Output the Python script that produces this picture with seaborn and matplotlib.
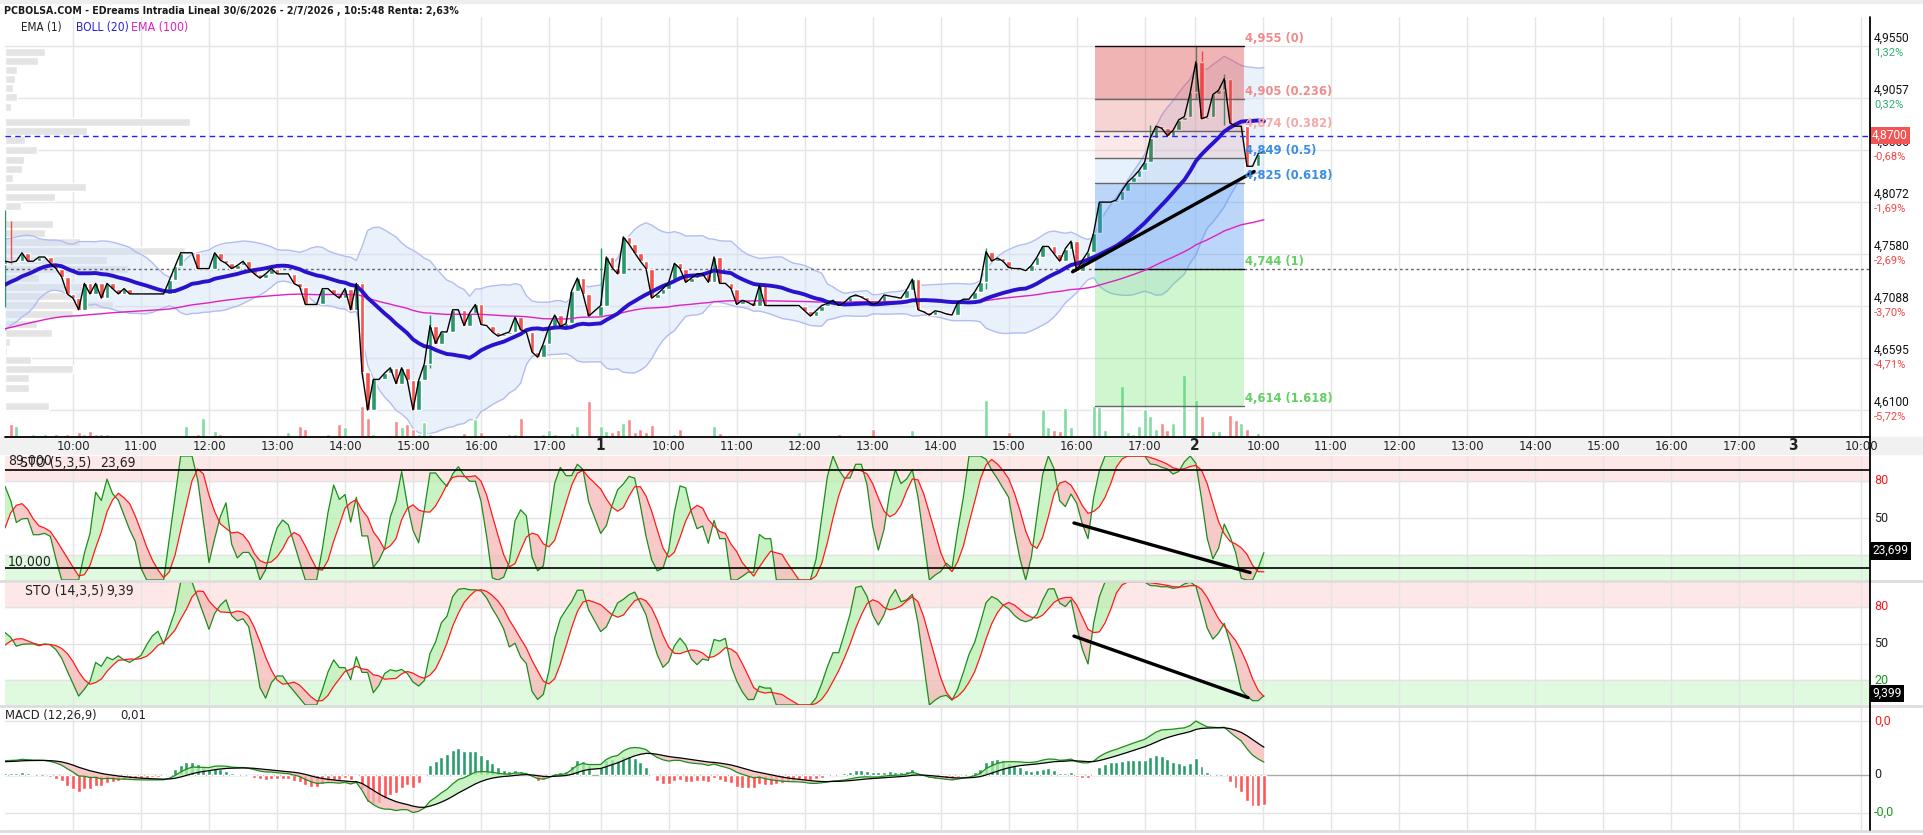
import numpy as np
import pandas as pd
import matplotlib
matplotlib.use("Agg")
import matplotlib.pyplot as plt
from matplotlib import font_manager as fm
import seaborn as sns
from matplotlib.patches import Rectangle
from matplotlib.lines import Line2D

W, H = 1924, 835

sns.set_theme(style="white")

# the chart uses a narrow face; take one if the box has it
narrow_fam, narrow_stretch = None, "normal"
for f in fm.fontManager.ttflist:
    if "Narrow" in f.name or "Condensed" in f.name:
        narrow_fam, narrow_stretch = f.name, f.stretch
        break
    if str(f.stretch) in ("condensed", "semi-condensed"):
        narrow_fam, narrow_stretch = f.name, f.stretch
        break
if narrow_fam:
    plt.rcParams['font.family'] = [narrow_fam, 'DejaVu Sans']
    plt.rcParams['font.stretch'] = narrow_stretch
else:
    plt.rcParams['font.family'] = ['Roboto', 'DejaVu Sans']
NUM = ["Roboto", "DejaVu Sans"]

# ---------------- data (5 minute bars) ----------------
# last closes of the previous session (only used to warm the indicators up)
prev_close = [4.700, 4.695, 4.705, 4.700, 4.710, 4.705, 4.700, 4.715, 4.725, 4.740,
              4.755, 4.770, 4.760, 4.745, 4.730, 4.720, 4.725, 4.735, 4.740, 4.748]

close_30jun = [4.751, 4.750, 4.751, 4.759, 4.751, 4.751, 4.755, 4.755, 4.749, 4.744,
               4.736, 4.720, 4.716, 4.705, 4.730, 4.720, 4.730, 4.716, 4.730, 4.725,
               4.720, 4.725, 4.720, 4.720, 4.720, 4.720, 4.720, 4.720, 4.720, 4.733,
               4.746, 4.759, 4.759, 4.759, 4.744, 4.744, 4.744, 4.759, 4.752, 4.749,
               4.744, 4.747, 4.751, 4.744, 4.739, 4.735, 4.739, 4.744, 4.739, 4.739,
               4.739, 4.730, 4.727, 4.710, 4.710, 4.710, 4.725, 4.725, 4.720, 4.716,
               4.725, 4.705, 4.730, 4.646, 4.610, 4.639, 4.639, 4.645, 4.650, 4.635,
               4.650, 4.638, 4.610, 4.638, 4.654, 4.690, 4.673, 4.684, 4.684, 4.705,
               4.705, 4.690, 4.702, 4.710, 4.691, 4.690, 4.684, 4.680, 4.682, 4.684,
               4.698, 4.686, 4.684, 4.665, 4.660, 4.673, 4.689, 4.700, 4.689, 4.692,
               4.723, 4.735, 4.720, 4.699]

close_1jul = [4.709, 4.755, 4.745, 4.739, 4.774, 4.767, 4.759, 4.751, 4.744, 4.716,
              4.720, 4.725, 4.731, 4.749, 4.744, 4.731, 4.735, 4.739, 4.739, 4.731,
              4.755, 4.730, 4.730, 4.725, 4.710, 4.714, 4.712, 4.709, 4.728, 4.709,
              4.709, 4.709, 4.709, 4.709, 4.709, 4.709, 4.704, 4.699, 4.704, 4.709,
              4.711, 4.714, 4.709, 4.712, 4.717, 4.719, 4.717, 4.714, 4.710, 4.712,
              4.719, 4.718, 4.717, 4.716, 4.724, 4.734, 4.705, 4.703, 4.700, 4.704,
              4.703, 4.701, 4.700, 4.712, 4.715, 4.715, 4.722, 4.731, 4.760, 4.751,
              4.754, 4.751, 4.745, 4.744, 4.744, 4.742, 4.747, 4.755, 4.765, 4.765,
              4.758, 4.751, 4.763, 4.770, 4.742, 4.752, 4.760, 4.778, 4.807, 4.807,
              4.807, 4.809, 4.818, 4.826, 4.831, 4.837, 4.845, 4.868, 4.879, 4.877,
              4.870, 4.875, 4.885, 4.888]

close_2jul = [4.911, 4.940, 4.886, 4.888, 4.909, 4.913, 4.924, 4.882, 4.879, 4.879,
              4.841, 4.841, 4.853, 4.855]

# the few long wicks that stand out: bar -> (low, high)
wicks_30jun = {0: (4.708, 4.800), 1: (4.748, 4.789), 63: (4.640, 4.731), 75: (4.650, 4.700)}
wicks_1jul = {0: (4.705, 4.764), 68: (4.725, 4.764), 97: (4.845, 4.880)}
wicks_2jul = {1: (4.905, 4.955), 2: (4.886, 4.950), 6: (4.880, 4.928)}

vol_30jun = [0, 13, 11, 0, 0, 3, 0, 3, 0, 3,
             0, 3, 2, 5, 3, 6, 3, 3, 3, 0,
             0, 0, 0, 0, 2, 0, 0, 0, 0, 0,
             0, 0, 11, 0, 3, 19, 2, 6, 3, 0,
             2, 0, 0, 2, 2, 2, 0, 2, 0, 0,
             5, 0, 11, 8, 0, 0, 0, 3, 0, 13,
             10, 2, 2, 31, 19, 3, 0, 0, 2, 16,
             10, 13, 8, 3, 15, 3, 0, 0, 2, 0,
             0, 4, 0, 18, 5, 1, 1, 2, 0, 3,
             3, 19, 1, 1, 1, 3, 7, 3, 1, 0,
             4, 11, 0, 36]

vol_1jul = [11, 6, 5, 7, 14, 18, 5, 8, 5, 12,
            0, 1, 0, 3, 8, 0, 0, 0, 0, 0,
            11, 4, 0, 2, 2, 0, 0, 2, 0, 1,
            0, 0, 0, 0, 0, 5, 0, 0, 0, 0,
            0, 0, 3, 0, 0, 0, 0, 0, 8, 1,
            1, 0, 0, 0, 0, 7, 0, 0, 0, 0,
            0, 0, 0, 0, 0, 0, 1, 0, 37, 2,
            0, 0, 5, 0, 0, 0, 0, 0, 28, 10,
            7, 6, 29, 10, 0, 0, 0, 31, 30, 7,
            2, 0, 51, 5, 3, 11, 28, 21, 8, 14,
            7, 14, 0, 62]

vol_2jul = [2, 37, 21, 2, 6, 6, 2, 22, 17, 14, 8, 0, 4, 1]

# volume-at-price profile on the left edge
profile_price = [4.9493, 4.9408, 4.9322, 4.9237, 4.9152, 4.9066, 4.8971, 4.8829, 4.8744, 4.8659,
                 4.8564, 4.8469, 4.8384, 4.8299, 4.8213, 4.8119, 4.8033, 4.7948, 4.7863, 4.7777,
                 4.7692, 4.7607, 4.7522, 4.7436, 4.7351, 4.7266, 4.7180, 4.7095, 4.7010, 4.6915,
                 4.6830, 4.6744, 4.6659, 4.6574, 4.6489, 4.6403, 4.6308, 4.6223, 4.6138]
profile_vol = [40, 33, 12, 10, 8, 12, 6, 185, 82, 20,
               32, 19, 17, 8, 81, 50, 16, 0, 48, 40,
               75, 180, 102, 123, 34, 80, 80, 108, 68, 32,
               47, 5, 2, 26, 68, 24, 24, 0, 44]

price_ticks = [4.9550, 4.9057, 4.8565, 4.8072, 4.7580, 4.7088, 4.6595, 4.6100]
price_tick_text = ["4,9550", "4,9057", "4,8565", "4,8072", "4,7580", "4,7088", "4,6595", "4,6100"]
pct_text = ["1,32%", "0,32%", "-0,68%", "-1,69%", "-2,69%", "-3,70%", "-4,71%", "-5,72%"]

fib_levels = [4.955, 4.905, 4.874, 4.849, 4.825, 4.744, 4.614]
fib_ratio = ["0", "0.236", "0.382", "0.5", "0.618", "1", "1.618"]

hour_labels = ["10:00", "11:00", "12:00", "13:00", "14:00", "15:00", "16:00", "17:00"]
day_labels = ["1", "2", "3"]

title = "PCBOLSA.COM - EDreams Intradia Lineal 30/6/2026 - 2/7/2026 , 10:5:48 Renta: 2,63%"
last_price = 4.87
sto_fast_last = 23.699
sto_slow_last = 9.399
macd_last = "0,01"

# ---------------- layout ----------------
XMAX = 1865 / 68.0          # hours shown on the time axis
BAR = 5 / 60.0
day_start = [0.0, 8.76, 17.5, 26.3]
bar_day_start = [0.0, 8.76, 17.43]
PPX = 0.0009477             # price per pixel in the main pane
YLO, YHI = 4.61 - 27 * PPX, 4.61 + 393 * PPX
HIST_SCALE = 2.0            # the histogram is drawn on its own, larger scale

fig = plt.figure(figsize=(W / 100, H / 100), dpi=100)
fig.patch.set_facecolor("white")
R = fig.canvas.get_renderer()


def size_for(s, width, **kw):
    # font size that makes the string as wide as on the original chart
    t = fig.text(0, 0, s, fontsize=10, **kw)
    w = t.get_window_extent(R).width
    t.remove()
    return 10 * width / w


def px_axes(x0, y0, x1, y1):
    ax = fig.add_axes([x0 / W, 1 - y1 / H, (x1 - x0) / W, (y1 - y0) / H])
    ax.set_xlim(0, XMAX)
    ax.set_xticks([])
    ax.set_yticks([])
    for s in ax.spines.values():
        s.set_visible(False)
    ax.set_facecolor("none")
    return ax


def ftext(x, y, s, size, **kw):
    kw.setdefault("va", "center")
    fig.text(x / W, 1 - y / H, s, fontsize=size, **kw)


FS_NUM = size_for("4,9550", 36, family=NUM)
FS_PCT = size_for("-0,68%", 32, family=NUM)
FS_AX = size_for("80", 14, family=NUM)

# positions of the time grid
grid_x, grid_lab, grid_bold = [], [], []
for d in range(4):
    if d > 0:
        grid_x.append(day_start[d]); grid_lab.append(day_labels[d - 1]); grid_bold.append(True)
    hrs = hour_labels if d < 3 else hour_labels[:1]
    for k, lab in enumerate(hrs):
        grid_x.append(day_start[d] + k + 1); grid_lab.append(lab); grid_bold.append(False)

# ---------------- series ----------------
closes = pd.Series(prev_close + close_30jun + close_1jul + close_2jul, dtype=float)
n0 = len(prev_close)
xs = np.concatenate([bar_day_start[0] + np.arange(len(close_30jun)) * BAR,
                     bar_day_start[1] + np.arange(len(close_1jul)) * BAR,
                     bar_day_start[2] + np.arange(len(close_2jul)) * BAR])
vols = np.array(vol_30jun + vol_1jul + vol_2jul, dtype=float)

opens = closes.shift(1).bfill()
hi = pd.concat([closes, opens], axis=1).max(axis=1)
lo = pd.concat([closes, opens], axis=1).min(axis=1)
offs = [n0, n0 + len(close_30jun), n0 + len(close_30jun) + len(close_1jul)]
for off, wk in zip(offs, (wicks_30jun, wicks_1jul, wicks_2jul)):
    for b, (l, h) in wk.items():
        lo.iloc[off + b] = min(lo.iloc[off + b], l)
        hi.iloc[off + b] = max(hi.iloc[off + b], h)

sma20 = closes.rolling(20, min_periods=1).mean()
std20 = closes.rolling(20, min_periods=1).std(ddof=0)
up_b, lo_b = sma20 + 2 * std20, sma20 - 2 * std20
ema100 = pd.Series([4.665] + list(closes)).ewm(span=100, adjust=False).mean().iloc[1:].reset_index(drop=True)


def stoch(n, slow, dper):
    hh = hi.rolling(n, min_periods=1).max()
    ll = lo.rolling(n, min_periods=1).min()
    raw = (100 * (closes - ll) / (hh - ll)).replace([np.inf, -np.inf], np.nan).ffill().fillna(50)
    k = raw.rolling(slow, min_periods=1).mean()
    d = k.rolling(dper, min_periods=1).mean()
    return k.iloc[n0:].values, d.iloc[n0:].values


k1, d1 = stoch(5, 3, 5)
k2, d2 = stoch(14, 3, 5)
ema12 = closes.ewm(span=12, adjust=False).mean()
ema26 = closes.ewm(span=26, adjust=False).mean()
macd = ema12 - ema26
signal = macd.ewm(span=9, adjust=False).mean()
hist = (macd - signal).iloc[n0:].values
macd_v, sig_v = macd.iloc[n0:].values, signal.iloc[n0:].values

c = closes.iloc[n0:].values
o = opens.iloc[n0:].values
hv, lv_ = hi.iloc[n0:].values, lo.iloc[n0:].values
sma_v, up_v, lo_v, ema_v = (s.iloc[n0:].values for s in (sma20, up_b, lo_b, ema100))

# ---------------- figure chrome ----------------
fig.patches.append(Rectangle((0, 1 - 3 / H), 1, 3 / H, transform=fig.transFigure, color="#eeeeee"))
fig.patches.append(Rectangle((0, 1 - 454 / H), 1, 17 / H, transform=fig.transFigure, color="#f1f1f1"))
for yy in (581, 706, 831):
    fig.add_artist(Line2D([0, 1], [1 - yy / H] * 2, color="#dddddd", lw=2))

# ---------------- main pane ----------------
ax = px_axes(5, 17, 1870, 437)
ax.set_ylim(YLO, YHI)
for gx in grid_x:
    ax.axvline(gx, color="#e5e5e5", lw=1, zorder=0.5)
for p in price_ticks:
    ax.axhline(p, color="#e5e5e5", lw=1, zorder=0.5)

ax.barh(profile_price, np.array(profile_vol) / 68.0, height=0.0078, left=0,
        color="#e4e4e4", zorder=1)

ax.fill_between(xs, lo_v, up_v, color="#d0e0f8", alpha=0.45, lw=0, zorder=1.5)
sns.lineplot(x=xs, y=up_v, ax=ax, color="#b4bcf2", lw=1, estimator=None, sort=False, zorder=1.6)
sns.lineplot(x=xs, y=lo_v, ax=ax, color="#b4bcf2", lw=1, estimator=None, sort=False, zorder=1.6)

ax.axhline(fib_levels[5], color="#666666", lw=1, ls=(0, (2, 2)), zorder=1.7)

up_bar = c >= o
vcol = np.where(up_bar, "#7fdca2", "#f98a8a")
ax.bar(xs, vols * PPX, bottom=YLO, width=0.06, color=vcol, zorder=2)

ccol = np.where(up_bar, "#26996b", "#f4524f")
wick = (hv - lv_) > np.abs(c - o) + 1e-9
ax.vlines(xs[wick], lv_[wick], hv[wick], color=ccol[wick], lw=1, zorder=2.4)
body = np.abs(c - o)
show = (body > 0) | (vols > 0)
ax.bar(xs[show], np.maximum(body, 0.0009)[show], bottom=np.minimum(c, o)[show], width=0.065,
       color=ccol[show], zorder=2.5)

# fibonacci retracement box
fx0, fx1 = 16.03, 18.22
fib_fill = [("#dc3c3c", 0.38), ("#dc3c3c", 0.22), ("#dc3c3c", 0.11),
            ("#3c8cf0", 0.12), ("#3c8cf0", 0.35), ("#3cdc3c", 0.24)]
for (col, a), top, bot in zip(fib_fill, fib_levels[:-1], fib_levels[1:]):
    ax.fill_between([fx0, fx1], bot, top, color=col, alpha=a, lw=0, zorder=3)
fib_lc = ["#111111", "#666666", "#666666", "#666666", "#666666", "#111111", "#666666"]
fib_tc = ["#f08c8c", "#f08c8c", "#f5a8a8", "#3a8ee6", "#3a8ee6", "#62d062", "#62d062"]
for lev, r, lc, tc in zip(fib_levels, fib_ratio, fib_lc, fib_tc):
    ax.plot([fx0, fx1], [lev, lev], color=lc, lw=1, zorder=3.2)
    ax.text(fx1 + 0.01, lev + 1 * PPX, f"{lev:.3f}".replace(".", ",") + f" ({r})", color=tc,
            fontsize=9.3, fontweight="bold", va="bottom", ha="left", zorder=6)

sns.lineplot(x=xs, y=ema_v, ax=ax, color="#e020c0", lw=1, estimator=None, sort=False, zorder=4)
sns.lineplot(x=xs, y=sma_v, ax=ax, color="#2a12cc", lw=2.8, estimator=None, sort=False, zorder=4.2)
sns.lineplot(x=xs, y=c, ax=ax, color="black", lw=1, estimator=None, sort=False, zorder=4.5)

ax.plot([15.70, 18.37], [4.741, 4.836], color="black", lw=2.4, solid_capstyle="round", zorder=5)
ax.axhline(last_price, color="#2020ff", lw=1, ls=(0, (4, 3)), zorder=5)

ytr = ax.get_yaxis_transform()
for p, t, pc in zip(price_ticks, price_tick_text, pct_text):
    ax.text(1.0022, p + 1 * PPX, t, transform=ytr, va="bottom", ha="left", fontsize=FS_NUM,
            family=NUM, color="#111111", clip_on=False)
    ax.text(1.0022, p - 1 * PPX, pc, transform=ytr, va="top", ha="left", fontsize=FS_PCT,
            family=NUM, color="#2fae72" if not pc.startswith("-") else "#f04848", clip_on=False)
ax.text(1.0012, last_price, f"{last_price:.4f}".replace(".", ","), transform=ytr, va="center",
        ha="left", fontsize=FS_NUM, family=NUM, color="white", clip_on=False,
        zorder=10, bbox=dict(boxstyle="square,pad=0.15", fc="#f25555", ec="none"))


# ---------------- stochastic panes ----------------
def sto_pane(y0, y1, k, d, last, lines, trend, show20):
    a = px_axes(5, y0, 1870, y1)
    a.set_ylim(0, 100)
    a.axhspan(80, 100, color="#fde7e7", zorder=0)
    a.axhspan(0, 20, color="#dffadf", zorder=0)
    for gx in grid_x:
        a.axvline(gx, color="#e5e5e5", lw=1, zorder=0.5)
    for gy in (80, 50, 20):
        a.axhline(gy, color="#e3e3e3", lw=1, zorder=0.5)
    a.fill_between(xs, k, d, where=k >= d, interpolate=True, color="#b8f0b0", alpha=0.75, lw=0, zorder=1)
    a.fill_between(xs, k, d, where=k < d, interpolate=True, color="#f6b8b8", alpha=0.75, lw=0, zorder=1)
    sns.lineplot(x=xs, y=k, ax=a, color="#1c8c1c", lw=0.9, estimator=None, sort=False, zorder=2)
    sns.lineplot(x=xs, y=d, ax=a, color="#ff1a1a", lw=0.9, estimator=None, sort=False, zorder=2)
    for lv in lines:
        a.axhline(lv, color="black", lw=1.2, zorder=2.5)
    a.plot(trend[0], trend[1], color="black", lw=2.4, solid_capstyle="round", zorder=3)
    yt = a.get_yaxis_transform()
    a.text(1.0022, 80, "80", transform=yt, va="center", fontsize=FS_AX, family=NUM, color="#ee2020", clip_on=False)
    a.text(1.0022, 50, "50", transform=yt, va="center", fontsize=FS_AX, family=NUM, color="#222222", clip_on=False)
    if show20:
        a.text(1.0022, 20, "20", transform=yt, va="center", fontsize=FS_AX, family=NUM, color="#1a9a1a", clip_on=False)
    a.text(1.0012, last, f"{last:.3f}".replace(".", ","), transform=yt, va="center", ha="left",
           fontsize=FS_NUM, family=NUM, color="white", clip_on=False, zorder=10,
           bbox=dict(boxstyle="square,pad=0.2", fc="black", ec="none"))
    return a


s1 = sto_pane(456, 580, k1, d1, sto_fast_last, (89, 10), ([15.72, 18.31], [46, 6]), False)
s2 = sto_pane(582, 705, k2, d2, sto_slow_last, (), ([15.72, 18.28], [56, 6]), True)

# ---------------- MACD pane ----------------
m = px_axes(5, 707, 1870, 830)
mmax, mmin = max(macd_v.max(), sig_v.max()), min(macd_v.min(), sig_v.min())
scale = min(54 / mmax, 42 / abs(mmin))
m.set_ylim(-55 / scale, 68 / scale)
for gx in grid_x:
    m.axvline(gx, color="#e5e5e5", lw=1, zorder=0.5)
m.axhline(mmax, color="#e3e3e3", lw=1, zorder=0.5)
m.axhline(mmin, color="#e3e3e3", lw=1, zorder=0.5)
m.axhline(0, color="#aaaaaa", lw=1, zorder=0.6)
m.bar(xs, hist * HIST_SCALE, width=0.055, color=np.where(hist >= 0, "#2a9d6a", "#ff5555"), zorder=1)
m.fill_between(xs, macd_v, sig_v, where=macd_v >= sig_v, interpolate=True, color="#b8f0b0", alpha=0.75, lw=0, zorder=1.5)
m.fill_between(xs, macd_v, sig_v, where=macd_v < sig_v, interpolate=True, color="#f6b8b8", alpha=0.75, lw=0, zorder=1.5)
sns.lineplot(x=xs, y=macd_v, ax=m, color="#1c8c1c", lw=0.9, estimator=None, sort=False, zorder=2)
sns.lineplot(x=xs, y=sig_v, ax=m, color="black", lw=0.9, estimator=None, sort=False, zorder=2)
mt = m.get_yaxis_transform()
m.text(1.0022, mmax, "0,0", transform=mt, va="center", fontsize=FS_AX, family=NUM, color="#ee2020", clip_on=False)
m.text(1.0022, 0, "0", transform=mt, va="center", fontsize=FS_AX, family=NUM, color="#222222", clip_on=False)
m.text(1.0022, mmin, "-0,0", transform=mt, va="center", fontsize=FS_AX, family=NUM, color="#1a9a1a", clip_on=False)

# ---------------- axes lines and labels ----------------
fig.add_artist(Line2D([1870 / W] * 2, [1 - 830 / H, 1 - 17 / H], color="black", lw=1.3))
fig.add_artist(Line2D([5 / W, 1870 / W], [1 - 437 / H] * 2, color="black", lw=1.3))

for gx, lab, bold in zip(grid_x, grid_lab, grid_bold):
    px = 5 + gx * 68
    ftext(px, 446, lab, 11 if bold else 9.3, ha="center",
          fontweight="bold" if bold else "normal", color="#222222")

ftext(4, 11, title, size_for(title, 453, fontweight="bold"), fontweight="bold", color="#1a1a1a")
ftext(21, 28, "EMA (1)", size_for("EMA (1)", 41), color="#222222")
ftext(76, 28, "BOLL (20)", size_for("BOLL (20)", 53), color="#2a22dd")
ftext(131, 28, "EMA (100)", size_for("EMA (100)", 57), color="#e020c0")

ftext(8, 461, "89,000", 10, color="#222222")
ftext(8, 562, "10,000", 10, color="#222222")
ftext(20, 463, "STO (5,3,5)", 10, color="#222222")
ftext(100, 463, f"{int(sto_fast_last * 100) / 100:.2f}".replace(".", ","), 10, color="#222222")
ftext(25, 591, "STO (14,3,5)", 10, color="#222222")
ftext(106, 591, f"{int(sto_slow_last * 100) / 100:.2f}".replace(".", ","), 10, color="#222222")
ftext(5, 715, "MACD (12,26,9)", 9.3, color="#222222")
ftext(120, 715, macd_last, 9.3, color="#222222")

fig.savefig("out.png", dpi=100, facecolor="white")
